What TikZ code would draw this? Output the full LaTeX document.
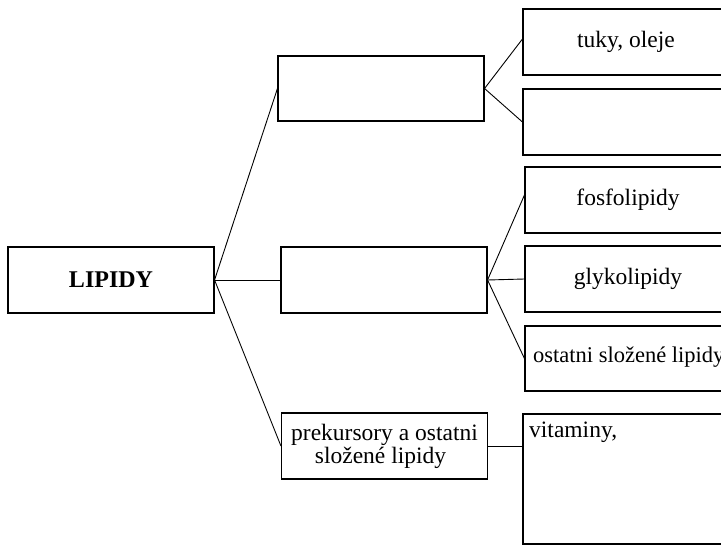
\documentclass[tikz,border=0pt]{standalone}
\usepackage{fontspec}
\setmainfont{Liberation Serif}
\begin{document}
\begin{tikzpicture}[x=1pt,y=-1pt,
  box/.style={draw,line width=1.1pt,rectangle,inner sep=0pt,minimum width=206pt,minimum height=66pt,
    font=\fontsize{23.5}{22}\selectfont,align=center},
  lbl/.style={inner sep=0pt,font=\fontsize{23.5}{22}\selectfont},
  conn/.style={line width=0.9pt}]
\clip (0,0) rectangle (721,546);
\fill[white] (0,0) rectangle (721,546);
% main
\node[box,font=\fontsize{24}{22}\selectfont\bfseries] (lip) at (111,280) {LIPIDY};
% middle column
\node[box,minimum height=65pt] (a) at (381,88.5) {};
\node[box] (b) at (384,280) {};
\node[box] (c) at (384.5,446) {prekursory a ostatni\\[1pt]\hspace*{-8pt}složené lipidy};
% right column
\node[box] (r1) at (626,42) {tuky, oleje};
\node[box] (r2) at (626,122) {};
\node[box] (r3) at (628,200) {fosfolipidy};
\node[box] (r4) at (628,279) {glykolipidy};
\node[box,minimum height=65pt] (r5) at (628,358.5) {};
\node[lbl,anchor=west,font=\fontsize{22.5}{22}\selectfont] (r5t) at (533,357) {ostatni složené lipidy};
\node[box,minimum height=130pt] (r6) at (626,479) {};
\node[lbl,anchor=base west] (r6t) at (529,437) {vitaminy,};
% connectors
\draw[conn] (lip.east) -- (a.west);
\draw[conn] (lip.east) -- (b.west);
\draw[conn] (lip.east) -- (c.west);
\draw[conn] (a.east) -- ([yshift=3pt]r1.west);
\draw[conn] (a.east) -- (r2.west);
\draw[conn] (b.east) -- ([yshift=5pt]r3.west);
\draw[conn] (b.east) -- (r4.west);
\draw[conn] (b.east) -- (r5.west);
\coordinate (r6c) at (r6.west |- c.east);
\draw[conn] (c.east) -- (r6c);
\end{tikzpicture}
\end{document}
